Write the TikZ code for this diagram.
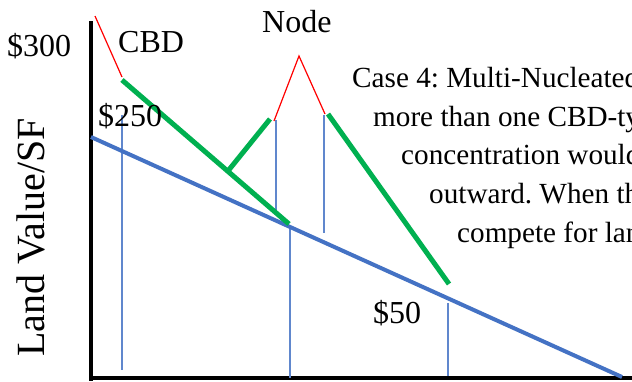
\documentclass[tikz,border=0pt]{standalone}
\usepackage{fontspec}
\setmainfont{Liberation Serif}
\definecolor{bl}{HTML}{4472C4}
\definecolor{gr}{HTML}{00B050}
\definecolor{rd}{HTML}{FF0000}
\frenchspacing
\tikzset{
  lbl/.style={anchor=base west,inner sep=0pt,font=\fontsize{32}{38}\selectfont},
  body/.style={lbl,font=\fontsize{29.2}{36}\selectfont},
  axis/.style={line width=4.5pt,black},
  gradient/.style={line width=4pt,bl},
  drop/.style={line width=1.3pt,bl!85},
  peak/.style={line width=5pt,gr},
  spike/.style={line width=1.2pt,rd},
}
\begin{document}
\begin{tikzpicture}[x=1pt,y=-1pt]
\useasboundingbox (0,0) rectangle (632,381);
\clip (0,0) rectangle (632,381);
\fill[white] (0,0) rectangle (632,381);
% coordinates
\coordinate (yt) at (91,21);
\coordinate (yb) at (91,381);
\coordinate (xl) at (89,378);
\coordinate (xr) at (640,378);
\coordinate (b0) at (91,137);
\coordinate (b1) at (622,377);
\coordinate (v1t) at (122,115); \coordinate (v1b) at (122,370);
\coordinate (v2t) at (276,120); \coordinate (v2b) at (276,210);
\coordinate (v3t) at (290,225); \coordinate (v3b) at (290,378);
\coordinate (v4t) at (324,115); \coordinate (v4b) at (324,233);
\coordinate (v5t) at (448,303); \coordinate (v5b) at (448,376);
\coordinate (g0) at (122,80);
\coordinate (g1) at (289,224);
\coordinate (g2) at (228,171);
\coordinate (g3) at (270,119);
\coordinate (g4) at (328,114);
\coordinate (g5) at (449,284);
\coordinate (r0) at (95,16);
\coordinate (r1) at (122,77);
\coordinate (r2) at (274,121);
\coordinate (r3) at (299,56);
\coordinate (r4) at (325,114);
% axes
\draw[axis] (yt) -- (yb);
\draw[axis] (xl) -- (xr);
% thin verticals
\draw[drop] (v1t) -- (v1b);
\draw[drop] (v2t) -- (v2b);
\draw[drop] (v3t) -- (v3b);
\draw[drop] (v4t) -- (v4b);
\draw[drop] (v5t) -- (v5b);
% base gradient
\draw[gradient] (b0) -- (b1);
% green
\draw[peak] (g0) -- (g1);
\draw[peak] (g2) -- (g3);
\draw[peak] (g4) -- (g5);
% red
\draw[spike] (r0) -- (r1);
\draw[spike] (r2) -- (r3) -- (r4);
% labels
\node[lbl] (p300) at (7,56) {\$300};
\node[lbl] (cbd) at (118,52) {CBD};
\node[lbl] (node) at (262,32) {Node};
\node[lbl] (p250) at (98,126) {\$250};
\node[lbl] (p50) at (373,323) {\$50};
\node[lbl,rotate=90,font=\fontsize{40}{48}\selectfont] (ylab) at (44,357) {Land Value/SF};
\node[body] (t1) at (352,87) {Case 4: Multi-Nucleated};
\node[body] (t2) at (373,126) {more than one CBD-type};
\node[body] (t3) at (401,164) {concentration would};
\node[body] (t4) at (429,203) {outward. When they};
\node[body] (t5) at (457,242) {compete for land};
\end{tikzpicture}
\end{document}
